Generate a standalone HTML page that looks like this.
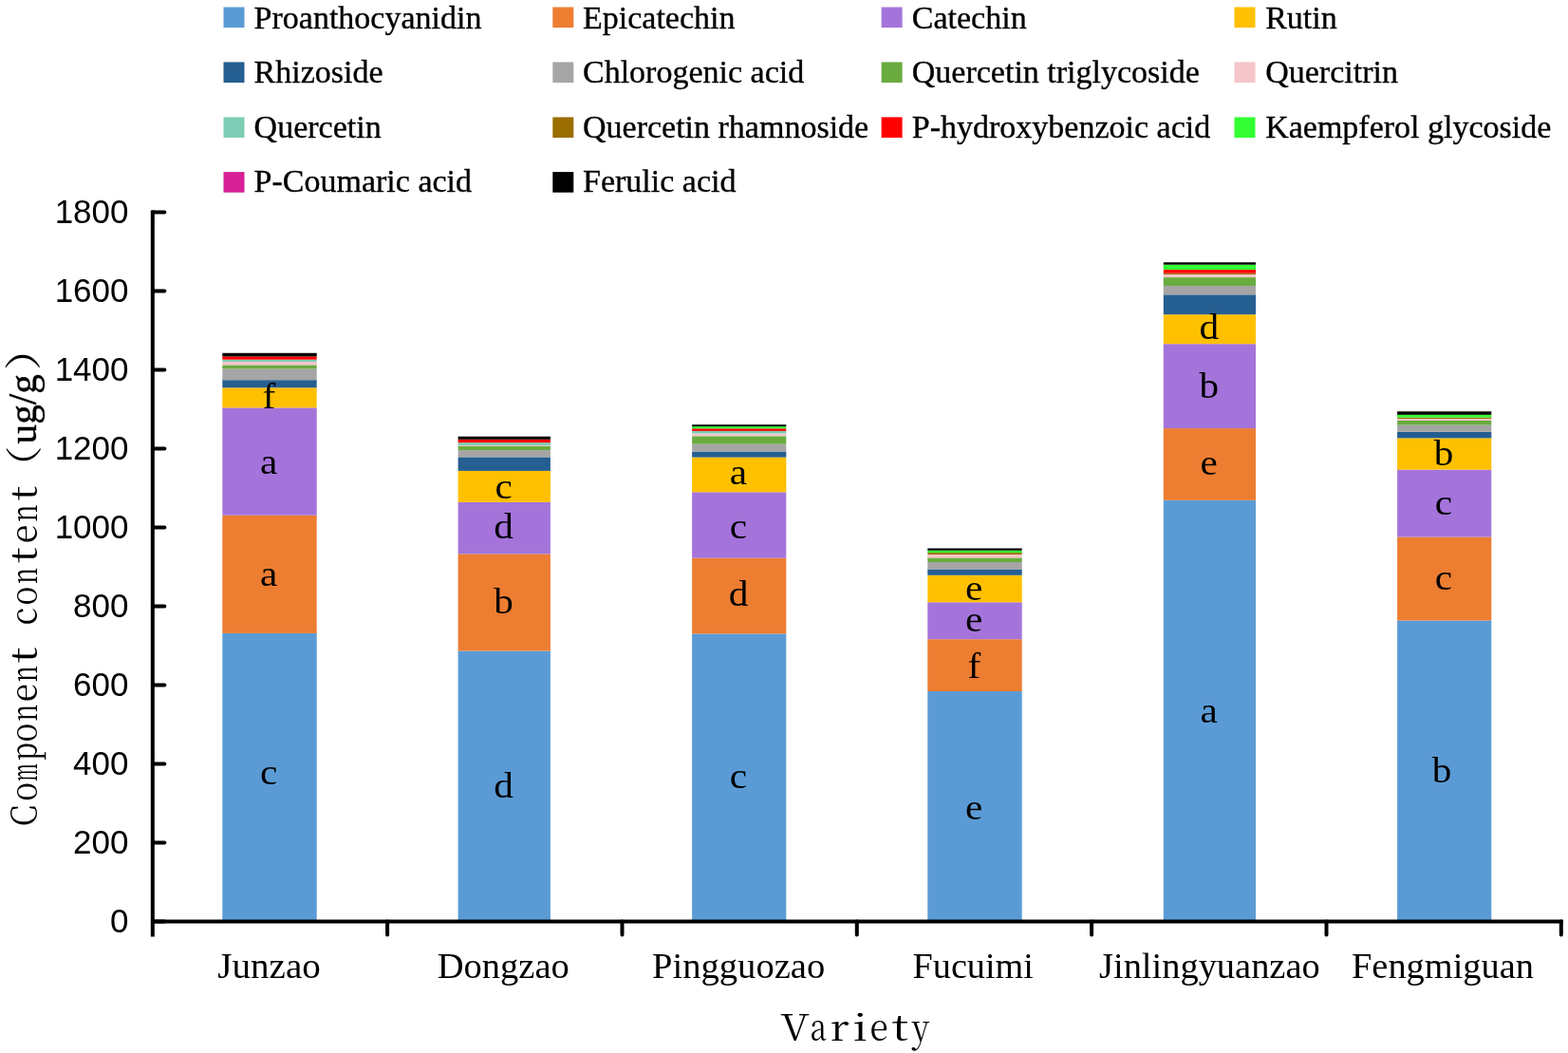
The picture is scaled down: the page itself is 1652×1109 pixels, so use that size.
<!DOCTYPE html>
<html><head><meta charset="utf-8"><title>Component content by variety</title>
<style>
html,body{margin:0;padding:0;background:#fff;overflow:hidden;}
svg{display:block;}
.lg{font-family:"Liberation Serif","Times New Roman",serif;font-size:34px;fill:#000;stroke:#000;stroke-width:0.35px;}
.tk{font-family:"Liberation Sans",Arial,sans-serif;font-size:35px;fill:#000;}
.ct{font-family:"Liberation Serif","Times New Roman",serif;font-size:38px;fill:#000;}
.dl{font-family:"Liberation Serif","Times New Roman",serif;font-size:37.5px;fill:#000;}
.at{font-family:"Noto Serif CJK SC","Liberation Serif",serif;font-size:38.5px;fill:#000;}
.pa{font-family:"Noto Serif CJK SC","Noto Sans CJK SC",serif;font-size:39px;fill:#000;}
.ug{font-family:"Liberation Serif","Times New Roman",serif;font-size:42px;fill:#000;stroke:#000;stroke-width:0.4px;}
</style></head><body>
<svg width="1652" height="1109" viewBox="0 0 1652 1109">
<rect width="1652" height="1109" fill="#fff"/>
<rect x="235.5" y="7.5" width="22" height="21.6" fill="#5B9BD5"/>
<text class="lg" x="267.6" y="29.6">Proanthocyanidin</text>
<rect x="582.3" y="7.5" width="22" height="21.6" fill="#ED7D31"/>
<text class="lg" x="614.0" y="29.6">Epicatechin</text>
<rect x="928.6" y="7.5" width="22" height="21.6" fill="#A474DB"/>
<text class="lg" x="960.8" y="29.6">Catechin</text>
<rect x="1300.5" y="7.5" width="22" height="21.6" fill="#FFC000"/>
<text class="lg" x="1333.2" y="29.6">Rutin</text>
<rect x="235.5" y="65.4" width="22" height="21.6" fill="#255E91"/>
<text class="lg" x="267.6" y="87.0">Rhizoside</text>
<rect x="582.3" y="65.4" width="22" height="21.6" fill="#A5A5A5"/>
<text class="lg" x="614.0" y="87.0">Chlorogenic acid</text>
<rect x="928.6" y="65.4" width="22" height="21.6" fill="#6AAB40"/>
<text class="lg" x="960.8" y="87.0">Quercetin triglycoside</text>
<rect x="1300.5" y="65.4" width="22" height="21.6" fill="#F5C5CA"/>
<text class="lg" x="1333.2" y="87.0">Quercitrin</text>
<rect x="235.5" y="123.4" width="22" height="21.6" fill="#7FCDB5"/>
<text class="lg" x="267.6" y="144.7">Quercetin</text>
<rect x="582.3" y="123.4" width="22" height="21.6" fill="#9A6E00"/>
<text class="lg" x="614.0" y="144.7">Quercetin rhamnoside</text>
<rect x="928.6" y="123.4" width="22" height="21.6" fill="#FF0000"/>
<text class="lg" x="960.8" y="144.7">P-hydroxybenzoic acid</text>
<rect x="1300.5" y="123.4" width="22" height="21.6" fill="#33FF33"/>
<text class="lg" x="1333.2" y="144.7">Kaempferol glycoside</text>
<rect x="235.5" y="181.1" width="22" height="21.6" fill="#D62196"/>
<text class="lg" x="267.6" y="202.3">P-Coumaric acid</text>
<rect x="582.3" y="181.1" width="22" height="21.6" fill="#000000"/>
<text class="lg" x="614.0" y="202.3">Ferulic acid</text>
<rect x="234.3" y="666.9" width="99.4" height="303.6" fill="#5B9BD5"/>
<rect x="234.3" y="542.7" width="99.4" height="124.2" fill="#ED7D31"/>
<rect x="234.3" y="429.4" width="99.4" height="113.3" fill="#A474DB"/>
<rect x="234.3" y="408.3" width="99.4" height="21.1" fill="#FFC000"/>
<rect x="234.3" y="400.2" width="99.4" height="8.1" fill="#255E91"/>
<rect x="234.3" y="388.4" width="99.4" height="11.8" fill="#A5A5A5"/>
<rect x="234.3" y="384.4" width="99.4" height="4.0" fill="#6AAB40"/>
<rect x="234.3" y="381.0" width="99.4" height="3.4" fill="#F5C5CA"/>
<rect x="234.3" y="378.7" width="99.4" height="2.3" fill="#7FCDB5"/>
<rect x="234.3" y="375.4" width="99.4" height="3.3" fill="#FF0000"/>
<rect x="234.3" y="371.8" width="99.4" height="3.6" fill="#000000"/>
<text class="dl" x="274.1" y="826.3" textLength="18.32" lengthAdjust="spacingAndGlyphs">c</text>
<text class="dl" x="274.1" y="616.5" textLength="18.32" lengthAdjust="spacingAndGlyphs">a</text>
<text class="dl" x="274.1" y="498.5" textLength="18.32" lengthAdjust="spacingAndGlyphs">a</text>
<text class="dl" x="276.4" y="430.3" textLength="13.75" lengthAdjust="spacingAndGlyphs">f</text>
<rect x="482.6" y="685.5" width="97.3" height="285.0" fill="#5B9BD5"/>
<rect x="482.6" y="583.4" width="97.3" height="102.1" fill="#ED7D31"/>
<rect x="482.6" y="528.9" width="97.3" height="54.5" fill="#A474DB"/>
<rect x="482.6" y="495.9" width="97.3" height="33.0" fill="#FFC000"/>
<rect x="482.6" y="481.4" width="97.3" height="14.5" fill="#255E91"/>
<rect x="482.6" y="474.1" width="97.3" height="7.3" fill="#A5A5A5"/>
<rect x="482.6" y="469.7" width="97.3" height="4.4" fill="#6AAB40"/>
<rect x="482.6" y="469.0" width="97.3" height="0.7" fill="#F5C5CA"/>
<rect x="482.6" y="466.1" width="97.3" height="2.9" fill="#7FCDB5"/>
<rect x="482.6" y="462.8" width="97.3" height="3.3" fill="#FF0000"/>
<rect x="482.6" y="459.7" width="97.3" height="3.1" fill="#000000"/>
<text class="dl" x="520.2" y="840.0" textLength="20.62" lengthAdjust="spacingAndGlyphs">d</text>
<text class="dl" x="520.2" y="646.3" textLength="20.62" lengthAdjust="spacingAndGlyphs">b</text>
<text class="dl" x="520.2" y="567.0" textLength="20.62" lengthAdjust="spacingAndGlyphs">d</text>
<text class="dl" x="521.4" y="524.5" textLength="18.32" lengthAdjust="spacingAndGlyphs">c</text>
<rect x="729.1" y="667.4" width="99.2" height="303.1" fill="#5B9BD5"/>
<rect x="729.1" y="587.7" width="99.2" height="79.7" fill="#ED7D31"/>
<rect x="729.1" y="518.3" width="99.2" height="69.4" fill="#A474DB"/>
<rect x="729.1" y="481.6" width="99.2" height="36.7" fill="#FFC000"/>
<rect x="729.1" y="475.5" width="99.2" height="6.1" fill="#255E91"/>
<rect x="729.1" y="467.7" width="99.2" height="7.8" fill="#A5A5A5"/>
<rect x="729.1" y="459.3" width="99.2" height="8.4" fill="#6AAB40"/>
<rect x="729.1" y="456.5" width="99.2" height="2.8" fill="#F5C5CA"/>
<rect x="729.1" y="453.9" width="99.2" height="2.6" fill="#7FCDB5"/>
<rect x="729.1" y="451.3" width="99.2" height="2.6" fill="#FF0000"/>
<rect x="729.1" y="449.1" width="99.2" height="2.2" fill="#33FF33"/>
<rect x="729.1" y="447.2" width="99.2" height="1.9" fill="#000000"/>
<text class="dl" x="768.8" y="830.4" textLength="18.32" lengthAdjust="spacingAndGlyphs">c</text>
<text class="dl" x="767.7" y="638.3" textLength="20.62" lengthAdjust="spacingAndGlyphs">d</text>
<text class="dl" x="768.8" y="567.0" textLength="18.32" lengthAdjust="spacingAndGlyphs">c</text>
<text class="dl" x="768.8" y="510.0" textLength="18.32" lengthAdjust="spacingAndGlyphs">a</text>
<rect x="977.3" y="728.0" width="99.4" height="242.5" fill="#5B9BD5"/>
<rect x="977.3" y="673.2" width="99.4" height="54.8" fill="#ED7D31"/>
<rect x="977.3" y="634.3" width="99.4" height="38.9" fill="#A474DB"/>
<rect x="977.3" y="605.8" width="99.4" height="28.5" fill="#FFC000"/>
<rect x="977.3" y="599.5" width="99.4" height="6.3" fill="#255E91"/>
<rect x="977.3" y="592.0" width="99.4" height="7.5" fill="#A5A5A5"/>
<rect x="977.3" y="587.4" width="99.4" height="4.6" fill="#6AAB40"/>
<rect x="977.3" y="584.0" width="99.4" height="3.4" fill="#F5C5CA"/>
<rect x="977.3" y="582.1" width="99.4" height="1.9" fill="#9A6E00"/>
<rect x="977.3" y="579.7" width="99.4" height="2.4" fill="#33FF33"/>
<rect x="977.3" y="577.5" width="99.4" height="2.2" fill="#000000"/>
<text class="dl" x="1017.1" y="862.5" textLength="18.32" lengthAdjust="spacingAndGlyphs">e</text>
<text class="dl" x="1019.4" y="714.0" textLength="13.75" lengthAdjust="spacingAndGlyphs">f</text>
<text class="dl" x="1017.1" y="665.0" textLength="18.32" lengthAdjust="spacingAndGlyphs">e</text>
<text class="dl" x="1017.1" y="632.0" textLength="18.32" lengthAdjust="spacingAndGlyphs">e</text>
<rect x="1225.8" y="526.8" width="97.2" height="443.7" fill="#5B9BD5"/>
<rect x="1225.8" y="451.1" width="97.2" height="75.7" fill="#ED7D31"/>
<rect x="1225.8" y="362.2" width="97.2" height="88.9" fill="#A474DB"/>
<rect x="1225.8" y="331.2" width="97.2" height="31.0" fill="#FFC000"/>
<rect x="1225.8" y="310.3" width="97.2" height="20.9" fill="#255E91"/>
<rect x="1225.8" y="301.0" width="97.2" height="9.3" fill="#A5A5A5"/>
<rect x="1225.8" y="292.1" width="97.2" height="8.9" fill="#6AAB40"/>
<rect x="1225.8" y="289.0" width="97.2" height="3.1" fill="#F5C5CA"/>
<rect x="1225.8" y="287.7" width="97.2" height="1.3" fill="#9A6E00"/>
<rect x="1225.8" y="284.1" width="97.2" height="3.6" fill="#FF0000"/>
<rect x="1225.8" y="278.7" width="97.2" height="5.4" fill="#33FF33"/>
<rect x="1225.8" y="276.3" width="97.2" height="2.4" fill="#000000"/>
<text class="dl" x="1264.5" y="760.5" textLength="18.32" lengthAdjust="spacingAndGlyphs">a</text>
<text class="dl" x="1264.5" y="500.0" textLength="18.32" lengthAdjust="spacingAndGlyphs">e</text>
<text class="dl" x="1263.4" y="419.0" textLength="20.62" lengthAdjust="spacingAndGlyphs">b</text>
<text class="dl" x="1263.4" y="356.5" textLength="20.62" lengthAdjust="spacingAndGlyphs">d</text>
<rect x="1472.1" y="653.5" width="99.2" height="317.0" fill="#5B9BD5"/>
<rect x="1472.1" y="565.5" width="99.2" height="88.0" fill="#ED7D31"/>
<rect x="1472.1" y="494.6" width="99.2" height="70.9" fill="#A474DB"/>
<rect x="1472.1" y="461.4" width="99.2" height="33.2" fill="#FFC000"/>
<rect x="1472.1" y="454.8" width="99.2" height="6.6" fill="#255E91"/>
<rect x="1472.1" y="447.6" width="99.2" height="7.2" fill="#A5A5A5"/>
<rect x="1472.1" y="443.0" width="99.2" height="4.6" fill="#6AAB40"/>
<rect x="1472.1" y="441.0" width="99.2" height="2.0" fill="#F5C5CA"/>
<rect x="1472.1" y="439.6" width="99.2" height="1.4" fill="#9A6E00"/>
<rect x="1472.1" y="436.8" width="99.2" height="2.8" fill="#33FF33"/>
<rect x="1472.1" y="433.3" width="99.2" height="3.5" fill="#000000"/>
<text class="dl" x="1508.7" y="824.0" textLength="20.62" lengthAdjust="spacingAndGlyphs">b</text>
<text class="dl" x="1511.8" y="621.3" textLength="18.32" lengthAdjust="spacingAndGlyphs">c</text>
<text class="dl" x="1511.8" y="541.5" textLength="18.32" lengthAdjust="spacingAndGlyphs">c</text>
<text class="dl" x="1510.7" y="489.5" textLength="20.62" lengthAdjust="spacingAndGlyphs">b</text>
<path d="M160.8 221.5 V986.5 M158.8 970.5 H1646.8" stroke="#000" stroke-width="4" fill="none"/>
<path d="M160.8 970.5 H173.4 M160.8 887.5 H173.4 M160.8 804.5 H173.4 M160.8 721.5 H173.4 M160.8 638.5 H173.4 M160.8 555.5 H173.4 M160.8 472.5 H173.4 M160.8 389.5 H173.4 M160.8 306.5 H173.4 M160.8 223.5 H173.4 " stroke="#000" stroke-width="4" fill="none" stroke-linecap="round"/>
<path d="M408.1 970.5 V984.6 M655.5 970.5 V984.6 M902.8 970.5 V984.6 M1150.1 970.5 V984.6 M1397.5 970.5 V984.6 M1644.8 970.5 V984.6 " stroke="#000" stroke-width="4" fill="none" stroke-linecap="round"/>
<text class="tk" x="135.5" y="982.3" text-anchor="end">0</text>
<text class="tk" x="135.5" y="899.3" text-anchor="end">200</text>
<text class="tk" x="135.5" y="816.3" text-anchor="end">400</text>
<text class="tk" x="135.5" y="733.3" text-anchor="end">600</text>
<text class="tk" x="135.5" y="650.3" text-anchor="end">800</text>
<text class="tk" x="135.5" y="567.3" text-anchor="end">1000</text>
<text class="tk" x="135.5" y="484.3" text-anchor="end">1200</text>
<text class="tk" x="135.5" y="401.3" text-anchor="end">1400</text>
<text class="tk" x="135.5" y="318.3" text-anchor="end">1600</text>
<text class="tk" x="135.5" y="235.3" text-anchor="end">1800</text>
<text class="ct" x="229.3" y="1029.5" textLength="108.5" lengthAdjust="spacingAndGlyphs">Junzao</text>
<text class="ct" x="460.8" y="1029.5" textLength="139.0" lengthAdjust="spacingAndGlyphs">Dongzao</text>
<text class="ct" x="687.0" y="1029.5" textLength="182.3" lengthAdjust="spacingAndGlyphs">Pingguozao</text>
<text class="ct" x="961.6" y="1029.5" textLength="127.3" lengthAdjust="spacingAndGlyphs">Fucuimi</text>
<text class="ct" x="1158.0" y="1029.5" textLength="232.7" lengthAdjust="spacingAndGlyphs">Jinlingyuanzao</text>
<text class="ct" x="1424.0" y="1029.5" textLength="192.0" lengthAdjust="spacingAndGlyphs">Fengmiguan</text>
<text class="at" y="1096.4" aria-label="Variety"><tspan x="822.4" textLength="30.25" lengthAdjust="spacingAndGlyphs">V</tspan><tspan x="853.5" textLength="17.50" lengthAdjust="spacingAndGlyphs">a</tspan><tspan x="874.7" textLength="19.69" lengthAdjust="spacingAndGlyphs">r</tspan><tspan x="898.5" textLength="15.74" lengthAdjust="spacingAndGlyphs">i</tspan><tspan x="916.5" textLength="19.20" lengthAdjust="spacingAndGlyphs">e</tspan><tspan x="939.4" textLength="17.68" lengthAdjust="spacingAndGlyphs">t</tspan><tspan x="960.8" textLength="18.43" lengthAdjust="spacingAndGlyphs">y</tspan></text>
<text class="at" transform="translate(39,900.0) rotate(-90)" x="0" y="0" aria-label="Component content（ug/g）"><tspan x="29.7" textLength="22.44" lengthAdjust="spacingAndGlyphs">C</tspan><tspan x="56.2" textLength="19.81" lengthAdjust="spacingAndGlyphs">o</tspan><tspan x="77.3" textLength="18.54" lengthAdjust="spacingAndGlyphs">m</tspan><tspan x="98.7" textLength="19.22" lengthAdjust="spacingAndGlyphs">p</tspan><tspan x="118.5" textLength="19.81" lengthAdjust="spacingAndGlyphs">o</tspan><tspan x="140.3" textLength="18.04" lengthAdjust="spacingAndGlyphs">n</tspan><tspan x="160.8" textLength="19.20" lengthAdjust="spacingAndGlyphs">e</tspan><tspan x="181.8" textLength="17.04" lengthAdjust="spacingAndGlyphs">n</tspan><tspan x="201.5" textLength="16.97" lengthAdjust="spacingAndGlyphs">t</tspan><tspan x="231.0"> </tspan><tspan x="241.6" textLength="18.77" lengthAdjust="spacingAndGlyphs">c</tspan><tspan x="262.4" textLength="19.81" lengthAdjust="spacingAndGlyphs">o</tspan><tspan x="285.1" textLength="17.04" lengthAdjust="spacingAndGlyphs">n</tspan><tspan x="307.1" textLength="16.62" lengthAdjust="spacingAndGlyphs">t</tspan><tspan x="327.7" textLength="19.58" lengthAdjust="spacingAndGlyphs">e</tspan><tspan x="350.2" textLength="18.37" lengthAdjust="spacingAndGlyphs">n</tspan><tspan x="372.7" textLength="15.44" lengthAdjust="spacingAndGlyphs">t</tspan><tspan class="pa" x="385.0" textLength="45.75" lengthAdjust="spacingAndGlyphs">（</tspan><tspan class="ug" x="432.6" dy="-0.7" textLength="73.1" lengthAdjust="spacingAndGlyphs">ug/g</tspan><tspan class="pa" x="509.7" textLength="47.17" lengthAdjust="spacingAndGlyphs">）</tspan></text>
</svg></body></html>
